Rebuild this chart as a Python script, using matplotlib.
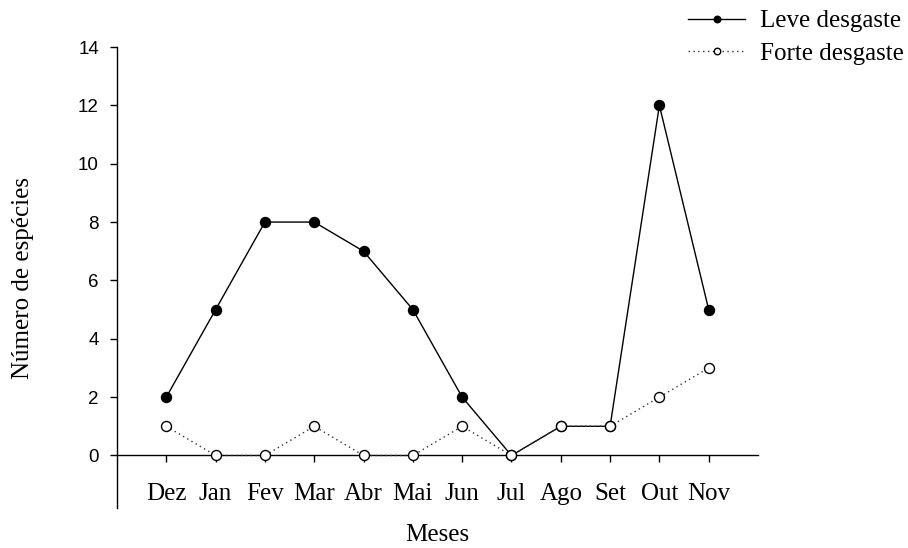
# -*- coding: utf-8 -*-
"""
Número de espécies por mês - leve e forte desgaste
"""
import matplotlib
matplotlib.use('Agg')
import matplotlib.pyplot as plt

# dados
meses = ['Dez', 'Jan', 'Fev', 'Mar', 'Abr', 'Mai', 'Jun', 'Jul', 'Ago', 'Set', 'Out', 'Nov']
leve_desgaste = [2, 5, 8, 8, 7, 5, 2, 0, 1, 1, 12, 5]
forte_desgaste = [1, 0, 0, 1, 0, 0, 1, 0, 1, 1, 2, 3]
y_ticks = [0, 2, 4, 6, 8, 10, 12, 14]

serif = ['Liberation Serif', 'DejaVu Serif']
sans = ['Liberation Sans', 'DejaVu Sans']

fig = plt.figure(figsize=(9.08, 5.48), dpi=100)
ax = fig.add_axes([117 / 908, 1 - 508 / 548, (758 - 117) / 908, (508 - 47) / 548])

x = list(range(len(meses)))

ax.plot(x, leve_desgaste, color='black', linestyle='-', linewidth=1.0,
        marker='o', markersize=7.2, markerfacecolor='black', markeredgecolor='black',
        label='Leve desgaste', zorder=3, clip_on=False)
ax.plot(x, forte_desgaste, color='#333333', linestyle=(0, (1, 2.5)), linewidth=1.0,
        marker='o', markersize=7.2, markerfacecolor='white', markeredgecolor='black',
        markeredgewidth=1.0, label='Forte desgaste', zorder=4, clip_on=False)

ax.set_xlim(-1, 12)
ax.set_ylim(-1.8, 14)

# eixos
ax.spines['top'].set_visible(False)
ax.spines['right'].set_visible(False)
ax.spines['bottom'].set_position(('data', 0))
ax.spines['left'].set_linewidth(1.0)
ax.spines['bottom'].set_linewidth(1.0)

ax.set_yticks(y_ticks)
ax.set_yticklabels([str(v) for v in y_ticks], fontfamily=sans, fontsize=13.5)
ax.set_xticks(x)
ax.set_xticklabels(meses, fontfamily=serif, fontsize=18)
ax.tick_params(axis='y', direction='out', length=5, width=1, pad=8)
ax.tick_params(axis='x', direction='out', length=5, width=1, pad=15)

fig.text(23 / 908, 1 - 278 / 548, 'Número de espécies', rotation=90,
         ha='center', va='center', fontfamily=serif, fontsize=18)
fig.text(437 / 908, 1 - 535 / 548, 'Meses', ha='center', va='center',
         fontfamily=serif, fontsize=18)

leg = fig.legend(loc='upper right', bbox_to_anchor=(1.0, 0.989), frameon=False,
                 prop={'family': serif, 'size': 18}, handlelength=2.3,
                 handletextpad=0.6, labelspacing=0.4, markerscale=0.65,
                 borderaxespad=0.0, borderpad=0.15)

plt.savefig('out.png', dpi=100, facecolor='white')
plt.close()
